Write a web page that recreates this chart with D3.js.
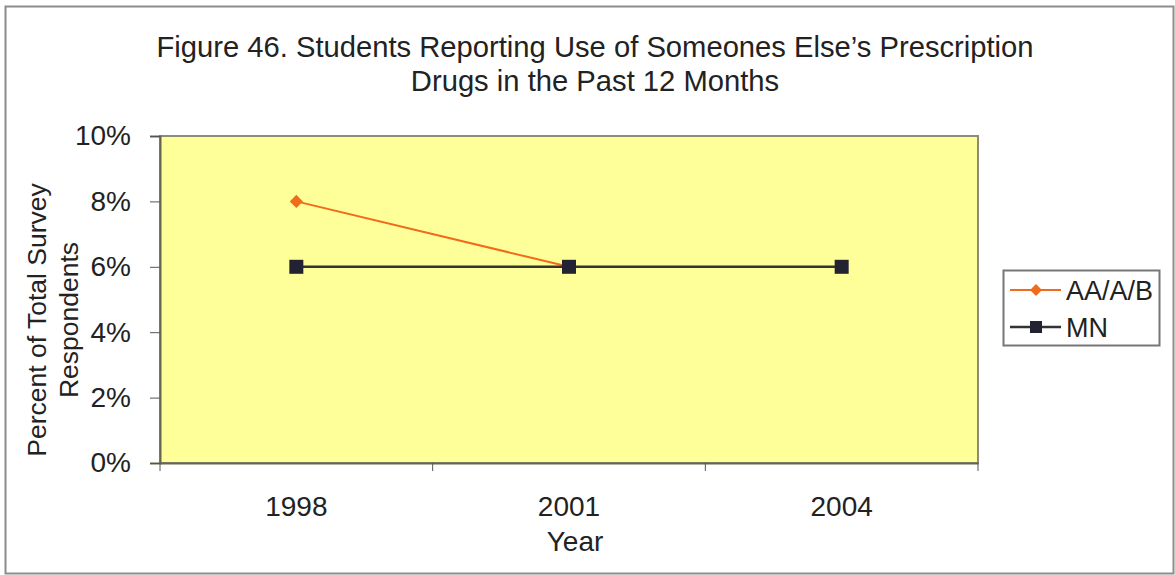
<!DOCTYPE html>
<html lang="en">

<head>
  <meta charset="UTF-8" />
  <title>Figure 46</title>
  <script src="https://cdn.jsdelivr.net/npm/d3@7"></script>
  <style>
    body { margin: 0; background: #fff; }
    text { font-family: "Liberation Sans", Arial, sans-serif; fill: #222; }
  </style>
</head>

<body>
  <svg id="svg"></svg>
</body>

<script>
  const years = ["1998", "2001", "2004"];
  const aaValues = [0.08, 0.06, null];
  const mnValues = [0.06, 0.06, 0.06];
  const yTicks = [0, 0.02, 0.04, 0.06, 0.08, 0.10];
  const seriesNames = ["AA/A/B", "MN"];

  const width = 1175;
  const height = 575;
  const plot = { left: 160, top: 136, right: 978, bottom: 463 };

  const svg = d3.select("#svg").attr("width", width).attr("height", height);

  // outer frame
  svg.append("rect")
    .attr("x", 5.5).attr("y", 6.5)
    .attr("width", 1168).attr("height", 567)
    .attr("fill", "#fff")
    .attr("stroke", "#8c8c8c")
    .attr("stroke-width", 2);

  const xScale = d3.scaleBand().domain(years).range([plot.left, plot.right]);
  const yScale = d3.scaleLinear().domain([0, 0.10]).range([plot.bottom, plot.top]);

  // plot area
  svg.append("rect")
    .attr("x", plot.left).attr("y", plot.top)
    .attr("width", plot.right - plot.left).attr("height", plot.bottom - plot.top)
    .attr("fill", "#ffff99")
    .attr("stroke", "#8c8c7a")
    .attr("stroke-width", 2);

  // title
  svg.append("text")
    .attr("x", 595).attr("y", 57)
    .attr("text-anchor", "middle")
    .attr("font-size", 29.2)
    .text("Figure 46. Students Reporting Use of Someones Else\u2019s Prescription");
  svg.append("text")
    .attr("x", 595).attr("y", 91)
    .attr("text-anchor", "middle")
    .attr("font-size", 29.2)
    .text("Drugs in the Past 12 Months");

  // y axis
  const yAxis = d3.axisLeft(yScale)
    .tickValues(yTicks)
    .tickFormat(d3.format(".0%"))
    .tickSize(10)
    .tickPadding(19);
  const yAxisGroup = svg.append("g")
    .attr("transform", `translate(${plot.left}, 0)`)
    .call(yAxis);
  yAxisGroup.select(".domain").attr("stroke", "#66664d").attr("stroke-width", 2);
  yAxisGroup.selectAll(".tick line").attr("stroke", "#555");
  yAxisGroup.selectAll(".tick text")
    .attr("font-size", 28)
    .attr("fill", "#222")
    .attr("font-family", "Liberation Sans, Arial, sans-serif");

  // x axis, ticks between categories
  const xAxis = d3.axisBottom(xScale).tickSize(0).tickPadding(33);
  const xAxisGroup = svg.append("g")
    .attr("transform", `translate(0, ${plot.bottom})`)
    .call(xAxis);
  xAxisGroup.select(".domain").attr("stroke", "#66664d").attr("stroke-width", 2);
  xAxisGroup.selectAll(".tick text")
    .attr("font-size", 28)
    .attr("fill", "#222")
    .attr("font-family", "Liberation Sans, Arial, sans-serif");
  const bounds = years.map(d => xScale(d)).concat([xScale(years[years.length - 1]) + xScale.bandwidth()]);
  xAxisGroup.selectAll(".sep")
    .data(bounds)
    .enter()
    .append("line")
    .attr("x1", d => d).attr("x2", d => d)
    .attr("y1", 0).attr("y2", 8)
    .attr("stroke", "#555");

  // axis titles
  svg.append("text")
    .attr("x", 575).attr("y", 551)
    .attr("text-anchor", "middle")
    .attr("font-size", 28)
    .text("Year");
  const yTitle = svg.append("text")
    .attr("transform", "translate(0, 320) rotate(-90)")
    .attr("text-anchor", "middle")
    .attr("font-size", 26.5);
  yTitle.append("tspan").attr("x", 0).attr("y", 46).text("Percent of Total Survey");
  yTitle.append("tspan").attr("x", 0).attr("y", 78).text("Respondents");

  const cx = d => xScale(d) + xScale.bandwidth() / 2;

  const line = d3.line()
    .defined(d => d.v !== null)
    .x(d => cx(d.year))
    .y(d => yScale(d.v));

  const aaData = years.map((y, i) => ({ year: y, v: aaValues[i] }));
  const mnData = years.map((y, i) => ({ year: y, v: mnValues[i] }));

  // AA/A/B series
  svg.append("path")
    .datum(aaData)
    .attr("d", line)
    .attr("fill", "none")
    .attr("stroke", "#f26a1b")
    .attr("stroke-width", 2);
  svg.selectAll(".aa-pt")
    .data(aaData.filter(d => d.v !== null))
    .enter()
    .append("path")
    .attr("d", d3.symbol(d3.symbolDiamond2, 110))
    .attr("transform", d => `translate(${cx(d.year)}, ${yScale(d.v)})`)
    .attr("fill", "#f26a1b");

  // MN series
  svg.append("path")
    .datum(mnData)
    .attr("d", line)
    .attr("fill", "none")
    .attr("stroke", "#333")
    .attr("stroke-width", 2.5);
  svg.selectAll(".mn-pt")
    .data(mnData)
    .enter()
    .append("rect")
    .attr("x", d => cx(d.year) - 7)
    .attr("y", d => yScale(d.v) - 7)
    .attr("width", 14).attr("height", 14)
    .attr("fill", "#222233");

  // legend
  const legend = svg.append("g");
  legend.append("rect")
    .attr("x", 1003.5).attr("y", 270.5)
    .attr("width", 156).attr("height", 75)
    .attr("fill", "#fff")
    .attr("stroke", "#777")
    .attr("stroke-width", 2);
  const legColors = ["#f26a1b", "#333"];
  seriesNames.forEach((name, i) => {
    const y = 290 + i * 37;
    legend.append("line")
      .attr("x1", 1010).attr("x2", 1061)
      .attr("y1", y).attr("y2", y)
      .attr("stroke", legColors[i])
      .attr("stroke-width", i === 0 ? 2 : 2.5);
    if (i === 0) {
      legend.append("path")
        .attr("d", d3.symbol(d3.symbolDiamond2, 90))
        .attr("transform", `translate(1036, ${y})`)
        .attr("fill", "#f26a1b");
    } else {
      legend.append("rect")
        .attr("x", 1030).attr("y", y - 6)
        .attr("width", 12).attr("height", 12)
        .attr("fill", "#222233");
    }
    legend.append("text")
      .attr("x", 1066).attr("y", y + 10)
      .attr("font-size", 27)
      .text(name);
  });
</script>

</html>
